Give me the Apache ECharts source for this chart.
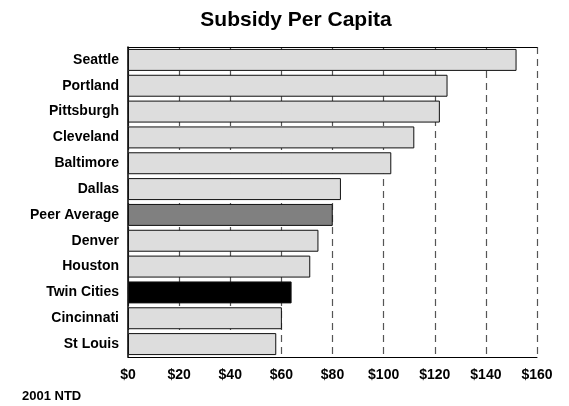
<!DOCTYPE html>
<html>
<head>
<meta charset="utf-8">
<script src="https://cdn.jsdelivr.net/npm/echarts@6/dist/echarts.min.js"></script>
<style>
    html, body { margin: 0; padding: 0; background: #fff; }
    #main { width: 569px; height: 406px; }
</style>
</head>
<body>
<div id="main"></div>
<script>
    // cities, top to bottom
    let cities = ['Seattle', 'Portland', 'Pittsburgh', 'Cleveland', 'Baltimore', 'Dallas',
        'Peer Average', 'Denver', 'Houston', 'Twin Cities', 'Cincinnati', 'St Louis'];
    let subsidy = [152, 125, 122, 112, 103, 83.3, 80.1, 74.5, 71.3, 64, 60.2, 58];
    // special fills
    let fills = { 'Peer Average': '#808080', 'Twin Cities': '#000000' };

    let myChart = echarts.init(document.getElementById('main'));
    let font = 'Liberation Sans, Arial, sans-serif';

    let option = {
        animation: false,
        title: {
            text: 'Subsidy Per Capita',
            left: 291,
            top: 5,
            textAlign: 'center',
            textStyle: { fontFamily: font, fontSize: 21, fontWeight: 'bold', color: '#000' }
        },
        graphic: [{
            type: 'text',
            left: 22,
            top: 390,
            style: { text: '2001 NTD', font: 'bold 13px ' + font, fill: '#000' }
        }],
        grid: { left: 128, top: 47, width: 409, height: 310 },
        xAxis: [{
            type: 'value',
            min: 0,
            max: 160,
            interval: 20,
            axisLine: { show: true, lineStyle: { color: '#000', width: 1 } },
            axisTick: { show: false },
            axisLabel: {
                formatter: v => '$' + v,
                fontFamily: font, fontSize: 14, fontWeight: 'bold', color: '#000', margin: 11
            },
            splitLine: { show: true, lineStyle: { color: '#555', type: [7, 5], width: 1.2 } }
        }, {
            type: 'value',
            position: 'top',
            min: 0,
            max: 160,
            interval: 20,
            axisLine: { show: true, lineStyle: { color: '#000', width: 1 } },
            axisTick: { show: false },
            axisLabel: { show: false },
            splitLine: { show: false }
        }],
        yAxis: {
            type: 'category',
            data: cities,
            inverse: true,
            axisLine: { show: true, lineStyle: { color: '#000', width: 1.5 } },
            axisTick: { show: false },
            axisLabel: { fontFamily: font, fontSize: 14, fontWeight: 'bold', color: '#000', margin: 9 }
        },
        series: [{
            type: 'bar',
            xAxisIndex: 0,
            barCategoryGap: '15%',
            data: subsidy.map((v, i) => ({
                value: v,
                itemStyle: { color: fills[cities[i]] || '#dddddd' }
            })),
            itemStyle: { borderColor: '#111', borderWidth: 1 }
        }]
    };
    myChart.setOption(option);
</script>
</body>
</html>
